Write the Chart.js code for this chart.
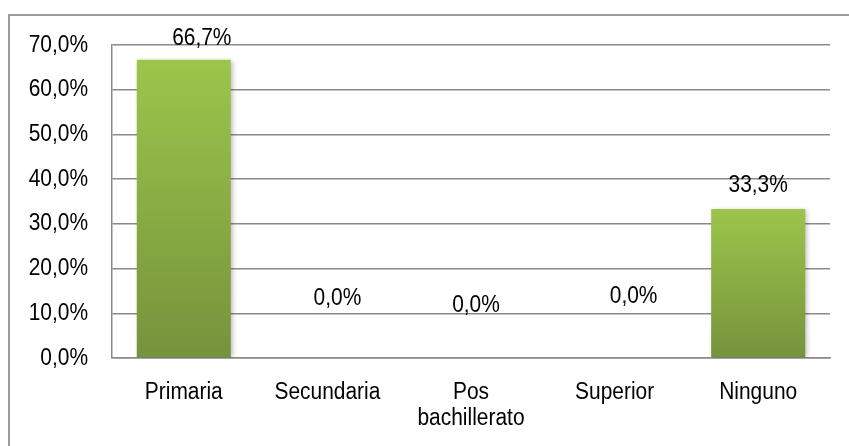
<!DOCTYPE html>
<html>
<head>
<meta charset="utf-8">
<script src="https://cdn.jsdelivr.net/npm/chart.js@4/dist/chart.umd.min.js"></script>
<style>
  html, body { margin: 0; padding: 0; background: #ffffff; }
  #wrap { position: relative; width: 849px; height: 446px; overflow: hidden; }
  #frame { position: absolute; left: 8px; top: 14px; width: 900px; height: 500px;
           border-top: 2px solid #9a9a9a; border-left: 2px solid #9a9a9a; pointer-events: none; }
  canvas { position: absolute; left: 0; top: 0; }
</style>
</head>
<body>
<div id="wrap">
  <canvas id="c" width="849" height="446"></canvas>
  <div id="frame"></div>
</div>
<script>
const categories = ['Primaria', 'Secundaria', ['Pos', 'bachillerato'], 'Superior', 'Ninguno'];
const values = [66.7, 0.0, 0.0, 0.0, 33.3];
const yTicks = [0, 10, 20, 30, 40, 50, 60, 70];

const FONT = "'Liberation Sans', Arial, sans-serif";
const FONT_SIZE = 23;
const SX = 0.91;            // horizontal condensing, the original uses a narrow face
const fmt = v => v.toFixed(1).replace('.', ',') + '%';

// manual label displacement (px, baseline) as in the original, where labels were moved by hand
const labelShift = [[18, -15], [10, -53], [5, -46], [19, -55], [0, -17]];

const barGradient = (ctx) => {
  const chart = ctx.chart;
  if (!chart.chartArea || ctx.type !== 'data') return '#8fb545';
  const y = chart.scales.y;
  const top = y.getPixelForValue(ctx.raw);
  const bottom = y.getPixelForValue(0);
  if (!isFinite(top) || bottom - top < 1) return '#9bc34a';
  const g = chart.ctx.createLinearGradient(0, top, 0, bottom);
  g.addColorStop(0, '#9cc54b');
  g.addColorStop(1, '#76933c');
  return g;
};

function drawText(c, text, x, y, align) {
  c.save();
  c.translate(x, y);
  c.scale(SX, 1);
  c.textAlign = align;
  c.fillText(text, 0, 0);
  c.restore();
}

const shadowPlugin = {
  id: 'shadow',
  beforeDatasetsDraw(chart) {
    const c = chart.ctx;
    c.save();
    c.shadowColor = 'rgba(0,0,0,0.28)';
    c.shadowBlur = 5;
    c.shadowOffsetX = 2;
    c.shadowOffsetY = 1;
  },
  afterDatasetsDraw(chart) {
    chart.ctx.restore();
  }
};

const textPlugin = {
  id: 'condensedText',
  afterDraw(chart) {
    const c = chart.ctx;
    const xs = chart.scales.x, ys = chart.scales.y;
    c.save();
    c.font = FONT_SIZE + 'px ' + FONT;
    c.fillStyle = '#000000';
    c.textBaseline = 'alphabetic';
    // y tick labels
    yTicks.forEach(v => {
      drawText(c, fmt(v), ys.right - 24, ys.getPixelForValue(v) + 6.5, 'right');
    });
    // x category labels
    categories.forEach((lab, i) => {
      const lines = Array.isArray(lab) ? lab : [lab];
      const x = xs.getPixelForValue(i);
      lines.forEach((ln, j) => drawText(c, ln, x, xs.top + 40.5 + j * 26.5, 'center'));
    });
    // value labels
    const meta = chart.getDatasetMeta(0);
    meta.data.forEach((bar, i) => {
      const s = labelShift[i];
      drawText(c, fmt(values[i]), bar.x + s[0], bar.y + s[1], 'center');
    });
    c.restore();
  }
};

new Chart(document.getElementById('c'), {
  type: 'bar',
  data: {
    labels: categories,
    datasets: [{
      data: values,
      backgroundColor: barGradient,
      borderWidth: 0,
      categoryPercentage: 1.0,
      barPercentage: 0.655
    }]
  },
  options: {
    responsive: false,
    animation: false,
    devicePixelRatio: 1,
    layout: { padding: { top: 45, right: 19, left: 0, bottom: 0 } },
    plugins: { legend: { display: false }, tooltip: { enabled: false } },
    scales: {
      x: {
        grid: { display: false, drawTicks: false },
        border: { display: true, color: '#8a8a8a', width: 1.5 },
        ticks: {
          color: 'rgba(0,0,0,0)',
          font: { family: FONT, size: FONT_SIZE, lineHeight: 1.1 },
          padding: 18,
          maxRotation: 0,
          autoSkip: false
        },
        afterFit(scale) { scale.height = 88; }
      },
      y: {
        min: 0,
        max: 70,
        afterBuildTicks(scale) { scale.ticks = yTicks.map(v => ({ value: v })); },
        grid: { color: '#8a8a8a', lineWidth: 1.5, drawTicks: false },
        border: { display: true, color: '#8a8a8a', width: 1.5 },
        ticks: {
          color: 'rgba(0,0,0,0)',
          font: { family: FONT, size: FONT_SIZE },
          padding: 24,
          callback: v => fmt(v)
        },
        afterFit(scale) { scale.width = 112; }
      }
    }
  },
  plugins: [shadowPlugin, textPlugin]
});
</script>
</body>
</html>
